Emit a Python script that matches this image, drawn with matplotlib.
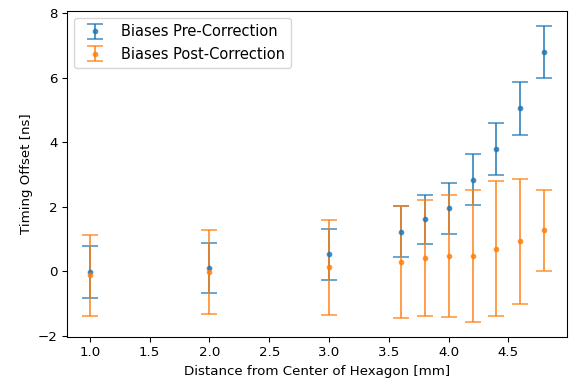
import numpy as np
import matplotlib
matplotlib.use('Agg')
import matplotlib.pyplot as plt

# distances from hexagon centre [mm]
dist = [1.0, 2.0, 3.0, 3.6, 3.8, 4.0, 4.2, 4.4, 4.6, 4.8]

# biases before correction and their errors [ns]
pre_bias = [-0.02, 0.09, 0.52, 1.22, 1.60, 1.95, 2.84, 3.78, 5.05, 6.79]
pre_err = [0.80, 0.77, 0.79, 0.79, 0.77, 0.79, 0.78, 0.80, 0.82, 0.81]

# biases after correction and their errors [ns]
post_bias = [-0.13, -0.04, 0.12, 0.29, 0.40, 0.47, 0.47, 0.70, 0.93, 1.26]
post_err = [1.25, 1.30, 1.47, 1.73, 1.79, 1.88, 2.05, 2.08, 1.94, 1.25]

fig, ax = plt.subplots(figsize=(569 / 96, 385 / 96), dpi=96)
fig.subplots_adjust(left=0.118, right=0.9965, top=0.971, bottom=0.125)

ax.errorbar(dist, pre_bias, yerr=pre_err, fmt='.', capsize=6,
            markeredgewidth=1.3, alpha=0.75, label='Biases Pre-Correction')
ax.errorbar(dist, post_bias, yerr=post_err, fmt='.', capsize=6,
            markeredgewidth=1.3, alpha=0.75, label='Biases Post-Correction')

ax.set_xlabel('Distance from Center of Hexagon [mm]')
ax.set_ylabel('Timing Offset [ns]')
ax.legend(loc='upper left', fontsize=11)

fig.savefig('out.png', dpi=96)
